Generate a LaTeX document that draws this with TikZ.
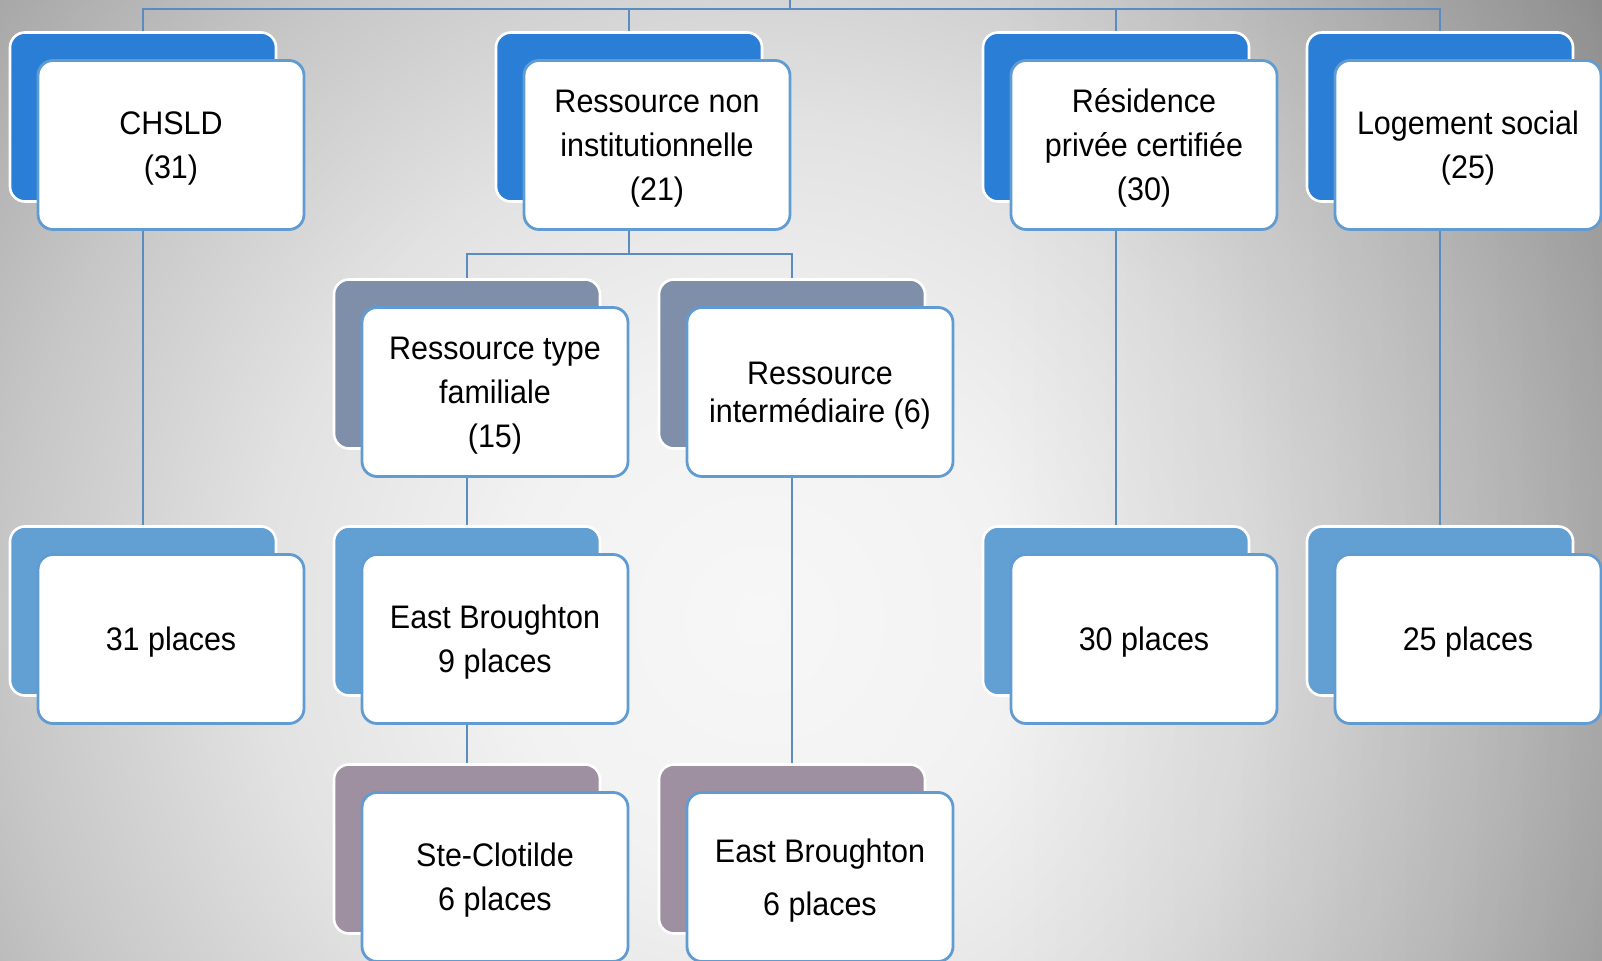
\documentclass[tikz,border=0pt]{standalone}
\usepackage{fontspec}
\setmainfont{Liberation Sans}[FakeStretch=0.935]
\usetikzlibrary{backgrounds, fadings}

\definecolor{bgc0}{RGB}{247,247,247}
\definecolor{bgc1}{RGB}{242,242,242}
\definecolor{bgc2}{RGB}{226,226,226}
\definecolor{bgc3}{RGB}{199,199,199}
\definecolor{bgc4}{RGB}{165,165,165}
\definecolor{bgc5}{RGB}{140,140,140}
\definecolor{lvlone}{RGB}{43,126,213}
\definecolor{lvltwo}{RGB}{127,143,169}
\definecolor{lvlthree}{RGB}{98,159,210}
\definecolor{lvlfour}{RGB}{158,144,160}
\definecolor{frameblue}{RGB}{96,156,210}
\definecolor{linkblue}{RGB}{90,140,192}
\pgfdeclareradialshading{bgglow}{\pgfpoint{0bp}{0bp}}{color(0bp)=(bgc0); color(5.43bp)=(bgc1);
	color(10.87bp)=(bgc2); color(16.3bp)=(bgc3); color(21.74bp)=(bgc4); color(25bp)=(bgc5); color(50bp)=(bgc5)}
\tikzfading[name = darkright, left color = transparent!100, right color = transparent!0]

\begin{document}
\begin{tikzpicture}[x = 0.5pt, y = -0.5pt,
	card/.style = {rounded corners = 7.5pt, minimum width = 133pt, minimum height = 84.5pt, inner sep = 0pt},
	back/.style = {card, draw = white, line width = 1.3pt},
	front/.style = {card, fill = white, draw = frameblue, line width = 1.4pt, align = center,
		text depth = -3pt, font = \fontsize{16.3}{22}\selectfont},
	link/.style = {draw = linkblue, line width = 1.2pt}]
	\useasboundingbox (0,0) rectangle (1602,961);

	\node[back, fill = lvlone](chsld-bk) at (143,117){};
	\node[front](chsld) at (171,145){CHSLD\\(31)};
	\node[back, fill = lvlone](rni-bk) at (629,117){};
	\node[front](rni) at (657,145){Ressource non\\institutionnelle\\(21)};
	\node[back, fill = lvlone](rpc-bk) at (1116,117){};
	\node[front](rpc) at (1144,145){Résidence\\privée certifiée\\(30)};
	\node[back, fill = lvlone](logsoc-bk) at (1440,117){};
	\node[front](logsoc) at (1468,145){Logement social\\(25)};

	\node[back, fill = lvltwo](rtf-bk) at (467,364){};
	\node[front](rtf) at (495,392){Ressource type\\familiale\\(15)};
	\node[back, fill = lvltwo](ri-bk) at (792,364){};
	\node[front, font = \fontsize{16.3}{19}\selectfont](ri) at (820,392){Ressource\\intermédiaire (6)};

	\node[back, fill = lvlthree](pl31-bk) at (143,611){};
	\node[front](pl31) at (171,639){31 places};
	\node[back, fill = lvlthree](eb9-bk) at (467,611){};
	\node[front](eb9) at (495,639){East Broughton\\9 places};
	\node[back, fill = lvlthree](pl30-bk) at (1116,611){};
	\node[front](pl30) at (1144,639){30 places};
	\node[back, fill = lvlthree](pl25-bk) at (1440,611){};
	\node[front](pl25) at (1468,639){25 places};

	\node[back, fill = lvlfour](stc-bk) at (467,849){};
	\node[front](stc) at (495,877){Ste-Clotilde\\6 places};
	\node[back, fill = lvlfour](eb6-bk) at (792,849){};
	\node[front, font = \fontsize{16.3}{26.5}\selectfont](eb6) at (820,877){East Broughton\\6 places};

	\coordinate (root) at (790,0);
	\coordinate (bar) at (0,9);
	\coordinate (subbar) at (0,254);

	\begin{scope}[on background layer]
		\clip (0,0) rectangle (1602,961);
		\shade[shading = bgglow] (760,620) circle[radius = 1150];
		\fill[black, fill opacity = 0.1, path fading = darkright] (1000,0) rectangle (1602,961);
		\draw[link] (root) -- (root |- bar);
		\draw[link] (chsld-bk.north) |- (logsoc-bk.north |- bar) -- (logsoc-bk.north);
		\draw[link] (rni-bk.north) -- (rni-bk.north |- bar);
		\draw[link] (rpc-bk.north) -- (rpc-bk.north |- bar);
		\draw[link] (chsld-bk.south) -- (pl31-bk.north);
		\draw[link] (rpc-bk.south) -- (pl30-bk.north);
		\draw[link] (logsoc-bk.south) -- (pl25-bk.north);
		\draw[link] (rni-bk.south) -- (rni-bk.south |- subbar);
		\draw[link] (rtf-bk.north) |- (ri-bk.north |- subbar) -- (ri-bk.north);
		\draw[link] (rtf-bk.south) -- (eb9-bk.north);
		\draw[link] (eb9-bk.south) -- (stc-bk.north);
		\draw[link] (ri-bk.south) -- (eb6-bk.north);
	\end{scope}
\end{tikzpicture}
\end{document}
